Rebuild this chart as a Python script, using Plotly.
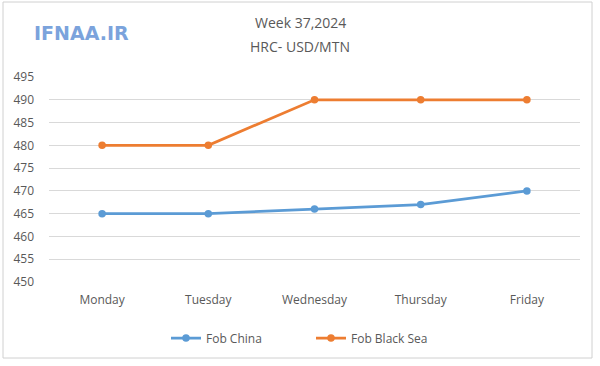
import plotly.graph_objects as go

days = ["Monday", "Tuesday", "Wednesday", "Thursday", "Friday"]
fob_china = [465, 465, 466, 467, 470]
fob_black_sea = [480, 480, 490, 490, 490]
y_ticks = [450, 455, 460, 465, 470, 475, 480, 485, 490, 495]

W, H = 600, 366
L, R, T, B = 49, 20, 77, 84

fig = go.Figure()
fig.add_trace(go.Scatter(x=days, y=fob_china, name="Fob China", mode="lines+markers",
                         line=dict(color="#5B9BD5", width=2.75),
                         marker=dict(color="#5B9BD5", size=7.5)))
fig.add_trace(go.Scatter(x=days, y=fob_black_sea, name="Fob Black Sea", mode="lines+markers",
                         line=dict(color="#ED7D31", width=2.75),
                         marker=dict(color="#ED7D31", size=7.5)))

pw = W - L - R
ph = H - T - B
def px(x):
    return (x - L) / pw
def py(y):
    return (H - B - y) / ph

fig.update_layout(
    width=W, height=H,
    margin=dict(l=L, r=R, t=T, b=B),
    paper_bgcolor="white", plot_bgcolor="white",
    font=dict(family="Open Sans, DejaVu Sans, sans-serif", color="#595959", size=12),
    showlegend=True,
    legend=dict(orientation="h", x=px(166), xanchor="left", y=py(338), yanchor="middle",
                font=dict(size=12, color="#595959"), itemwidth=30,
                entrywidth=100, entrywidthmode="pixels",
                bgcolor="rgba(0,0,0,0)"),
    xaxis=dict(type="category", range=[-0.5, 4.5], showgrid=False, showline=False,
               ticks="", tickfont=dict(size=12, color="#595959"), zeroline=False,
               ticklabelstandoff=9),
    yaxis=dict(range=[450, 495], tickvals=y_ticks, showgrid=True, gridcolor="#D9D9D9",
               gridwidth=1, showline=False, ticks="", zeroline=False,
               tickfont=dict(size=12, color="#595959"), ticklabelstandoff=14),
    annotations=[
        dict(text="Week 37,2024", xref="paper", yref="paper", x=px(300), y=py(22),
             xanchor="center", yanchor="middle", showarrow=False,
             font=dict(size=14, color="#595959")),
        dict(text="HRC- USD/MTN", xref="paper", yref="paper", x=px(300), y=py(46),
             xanchor="center", yanchor="middle", showarrow=False,
             font=dict(size=14, color="#595959")),
        dict(text="<b>IFNAA.IR</b>", xref="paper", yref="paper", x=px(32), y=py(33),
             xanchor="left", yanchor="middle", showarrow=False,
             font=dict(size=19, color="#7BA3DC", family="Verdana, DejaVu Sans, sans-serif")),
    ],
    shapes=[
        dict(type="rect", xref="paper", yref="paper", x0=px(3), x1=px(592), y0=py(358), y1=py(2),
             line=dict(color="#D0D0D0", width=1), fillcolor="rgba(0,0,0,0)", layer="below"),
    ],
)

fig.write_html("out.html", config={"displayModeBar": False},
               post_script="document.body.style.margin='0px';")
